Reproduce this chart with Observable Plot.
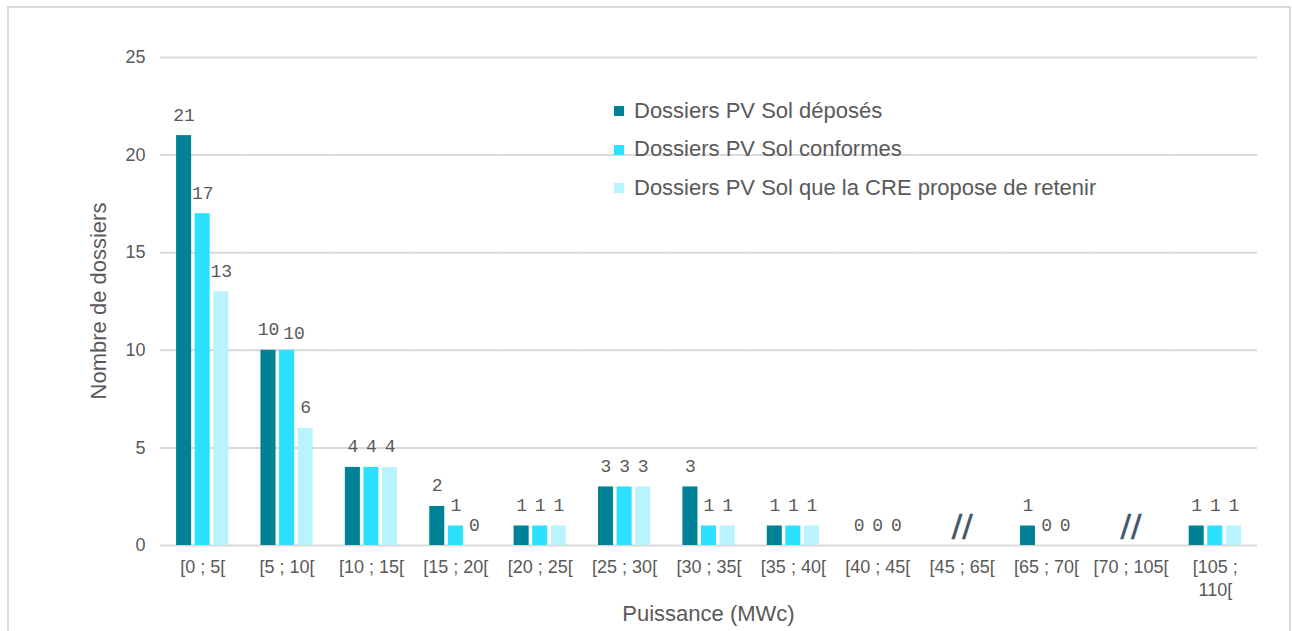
<!DOCTYPE html>
<html>
<head>
<meta charset="utf-8">
<script src="https://cdn.jsdelivr.net/npm/d3@7"></script>
<script src="https://cdn.jsdelivr.net/npm/@observablehq/plot@0.6"></script>
<style>
  body { margin: 0; background: #fff; }
  #wrap { position: relative; width: 1292px; height: 631px; overflow: hidden;
          font-family: "Liberation Sans", Arial, sans-serif; color: #595959; }
  #frame { position: absolute; left: 7px; top: 6px; width: 1280px; height: 700px;
           border: 2px solid #d9d9d9; }
  #chart { position: absolute; left: 0; top: 0; }
  #chart svg { display: block; }
  .title { position: absolute; font-size: 22px; line-height: 1; white-space: nowrap; }
  #ytitle { left: 99px; top: 301px; transform: translate(-50%, -50%) rotate(-90deg); }
  #xtitle { left: 708.5px; top: 614px; transform: translate(-50%, -50%); }
  #legend { position: absolute; left: 614px; top: 91.5px; font-size: 22px; line-height: 38.8px; }
  #legend .item { display: flex; align-items: center; white-space: nowrap; }
  #legend .swatch { width: 10px; height: 10px; margin-right: 10px; flex: none; }
</style>
</head>
<body>
<div id="wrap">
  <div id="frame"></div>
  <div id="chart"></div>
  <div id="legend"></div>
  <div class="title" id="ytitle">Nombre de dossiers</div>
  <div class="title" id="xtitle">Puissance (MWc)</div>
</div>
<script>
// Power classes (MWc) on the horizontal axis
const categories = ["[0 ; 5[", "[5 ; 10[", "[10 ; 15[", "[15 ; 20[", "[20 ; 25[", "[25 ; 30[",
  "[30 ; 35[", "[35 ; 40[", "[40 ; 45[", "[45 ; 65[", "[65 ; 70[", "[70 ; 105[", "[105 ; 110["];
const tickLabels = ["[0 ; 5[", "[5 ; 10[", "[10 ; 15[", "[15 ; 20[", "[20 ; 25[", "[25 ; 30[",
  "[30 ; 35[", "[35 ; 40[", "[40 ; 45[", "[45 ; 65[", "[65 ; 70[", "[70 ; 105[", "[105 ;\n110["];

// Series
const series = ["Dossiers PV Sol déposés", "Dossiers PV Sol conformes",
  "Dossiers PV Sol que la CRE propose de retenir"];
const colors = ["#008296", "#2ce1ff", "#b9f3ff"];

// Number of files per class (null = axis break, no bars)
const deposes   = [21, 10, 4, 2, 1, 3, 3, 1, 0, null, 1, null, 1];
const conformes = [17, 10, 4, 1, 1, 3, 1, 1, 0, null, 0, null, 1];
const retenus   = [13,  6, 4, 0, 1, 3, 1, 1, 0, null, 0, null, 1];

// Classes shown as a break in the axis
const breaks = ["[45 ; 65[", "[70 ; 105["];

const yTicks = [0, 5, 10, 15, 20, 25];

const seriesValues = [deposes, conformes, retenus];
const rows = [];
seriesValues.forEach((vals, s) => {
  vals.forEach((v, i) => {
    if (v == null) return;
    // a two-digit label level with its left neighbour would collide: nudge it aside
    const prev = s > 0 ? seriesValues[s - 1][i] : null;
    const nudge = prev != null && prev === v && v >= 10;
    rows.push({cat: categories[i], serie: series[s], value: v, nudge});
  });
});

const labelStyle = {
  fx: "cat", x: "serie", y: "value", text: "value", lineAnchor: "bottom",
  fontFamily: "'Liberation Mono', 'DejaVu Sans Mono', monospace", fontSize: 18,
  letterSpacing: "-1px", fill: "#595959"
};

const chart = Plot.plot({
  width: 1292,
  height: 631,
  marginLeft: 160,
  marginRight: 35,
  marginTop: 57,
  marginBottom: 86,
  style: {fontFamily: "'Liberation Sans', Arial, sans-serif", color: "#595959", background: "transparent"},
  fx: {domain: categories, padding: 0, round: false, label: null},
  x: {domain: series, axis: null, round: false, paddingInner: 0.19, paddingOuter: 0.865},
  y: {domain: [0, 25], axis: null},
  color: {domain: series, range: colors},
  marks: [
    Plot.gridY(yTicks, {stroke: "#d9d9d9", strokeOpacity: 1, strokeWidth: 2}),
    Plot.axisY(yTicks, {tickSize: 0, tickPadding: 15, fontSize: 18, label: null}),
    Plot.axisFx({
      anchor: "bottom", tickSize: 0, tickPadding: 12, fontSize: 18, label: null, lineHeight: 1.25,
      tickFormat: (d) => tickLabels[categories.indexOf(d)]
    }),
    Plot.barY(rows, {fx: "cat", x: "serie", y: "value", fill: "serie"}),
    Plot.text(rows.filter((d) => !d.nudge), {...labelStyle, dy: -15}),
    Plot.text(rows.filter((d) => d.nudge), {...labelStyle, dx: 7, dy: -11}),
    Plot.text(breaks, {
      fx: (d) => d, y: () => 0, text: () => "//",
      dy: -10, lineAnchor: "bottom",
      fontFamily: "'DejaVu Sans', sans-serif", fontSize: 31,
      letterSpacing: "3px", fill: "#44546a", stroke: "#44546a", strokeWidth: 0.6
    })
  ]
});
document.getElementById("chart").appendChild(chart);

// Legend inside the plot area
const legend = document.getElementById("legend");
series.forEach((name, i) => {
  const item = document.createElement("div");
  item.className = "item";
  const sw = document.createElement("span");
  sw.className = "swatch";
  sw.style.background = colors[i];
  const label = document.createElement("span");
  label.textContent = name;
  item.appendChild(sw);
  item.appendChild(label);
  legend.appendChild(item);
});
</script>
</body>
</html>
